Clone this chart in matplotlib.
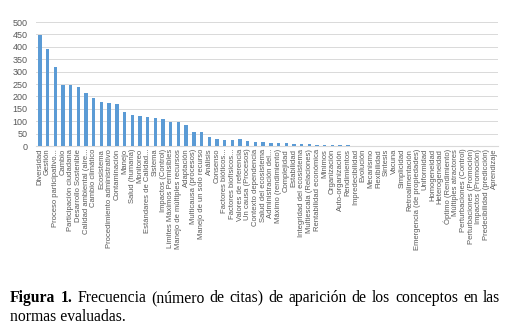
import matplotlib
matplotlib.use("Agg")
import matplotlib.pyplot as plt
import numpy as np

categories = [
    "Diversidad", "Gestión", "Proceso participativo...", "Cambio",
    "Participación ciudadana", "Desarrollo Sostenible", "Calidad ambiental (aire...",
    "Cambio climático", "Ecosistema", "Procedimiento administrativo", "Contaminación",
    "Manejo", "Salud (humana)", "Monitoreo", "Estándares de Calidad...", "Sistema",
    "Impactos (Control)", "Límites Máximos Permisibles", "Manejo de múltiples recursos",
    "Adaptación", "Multicausa (procesos)", "Manejo de un solo recurso", "Análisis",
    "Consenso", "Factores bióticos...", "Factores biofísicos...", "Valores de referencia",
    "Un causa (Procesos)", "Contexto dependencia", "Salud del ecosistema",
    "Administración del...", "Máximo (rendimiento)", "Complejidad", "Estabilidad",
    "Integridad del ecosistema", "Multiescala (Relaciones)", "Rentabilidad económica",
    "Mínimos", "Organización", "Auto-organización", "Rendimientos", "Impredecibilidad",
    "Evolución", "Mecanismo", "Flexibilidad", "Síntesis", "Vacuna", "Simplicidad",
    "Retroalimentación", "Emergencia (de propiedades)", "Uniformidad", "Homogeneidad",
    "Heterogeneidad", "Óptimo (Rendimiento)", "Múltiples atractores",
    "Perturbaciones (Control)", "Perturbaciones (Promoción)", "Impactos (Promoción)",
    "Predecibilidad (predicción)", "Aprendizaje",
]
values = [
    448, 391, 317, 246, 245, 236, 212, 192, 177, 173, 168, 137, 125, 120, 117, 112,
    109, 97, 95, 85, 55, 55, 38, 30, 26, 26, 27, 20, 17, 16, 14, 12, 11, 9, 8, 7, 6,
    5, 4, 3, 3, 2, 2, 2, 2, 2, 1, 1, 1, 1, 1, 1, 1, 1, 1, 1, 1, 1, 1, 1,
]
yticks = [0, 50, 100, 150, 200, 250, 300, 350, 400, 450, 500]
caption_bold = "Figura 1."
caption_line1 = "Frecuencia (número de citas) de aparición de los conceptos en las"
caption_line2 = "normas evaluadas."

W, H = 512, 331
fig = plt.figure(figsize=(W/100, H/100), dpi=100)
ax = fig.add_axes([36/W, 1-146/H, 462/W, 124/H])
x = np.arange(len(categories))
ax.bar(x, values, width=0.45, color="#5B9BD5", zorder=3)
ax.set_xlim(-0.5, len(categories)-0.5)
ax.set_ylim(0, 500)
ax.set_yticks(yticks)
ax.grid(axis="y", color="#D9D9D9", linewidth=0.7, zorder=0)
for s in ax.spines.values():
    s.set_visible(False)
ax.spines["bottom"].set_visible(True)
ax.spines["bottom"].set_color("#D9D9D9")
ax.tick_params(axis="both", length=0, colors="#595959")
ax.tick_params(axis="y", labelsize=6.5, pad=6)
ax.set_xticks(x)
ax.set_xticklabels(categories, rotation=90, fontsize=5.5, family="Liberation Sans")
ax.tick_params(axis="x", pad=2)
for lbl in ax.get_yticklabels():
    lbl.set_family("Liberation Sans")

# Caption, first line justified
fs = 11.3
y1 = 1 - 302/H
y2 = 1 - 321/H
x_left, x_right = 10, 500
fig.canvas.draw()
r = fig.canvas.get_renderer()
words = [(w, "bold") for w in caption_bold.split()] + [(w, "normal") for w in caption_line1.split()]
texts = []
for w, wt in words:
    t = fig.text(0, y1, w, family="Liberation Serif", weight=wt, fontsize=fs,
                 va="baseline", ha="left")
    texts.append(t)
widths = [t.get_window_extent(renderer=r).width for t in texts]
gap = (x_right - x_left - sum(widths)) / (len(texts) - 1)
cx = x_left
for t, wd in zip(texts, widths):
    t.set_x(cx / W)
    cx += wd + gap
fig.text(x_left/W, y2, caption_line2, family="Liberation Serif",
         fontsize=fs, va="baseline", ha="left")

fig.savefig("out.png", dpi=100)
